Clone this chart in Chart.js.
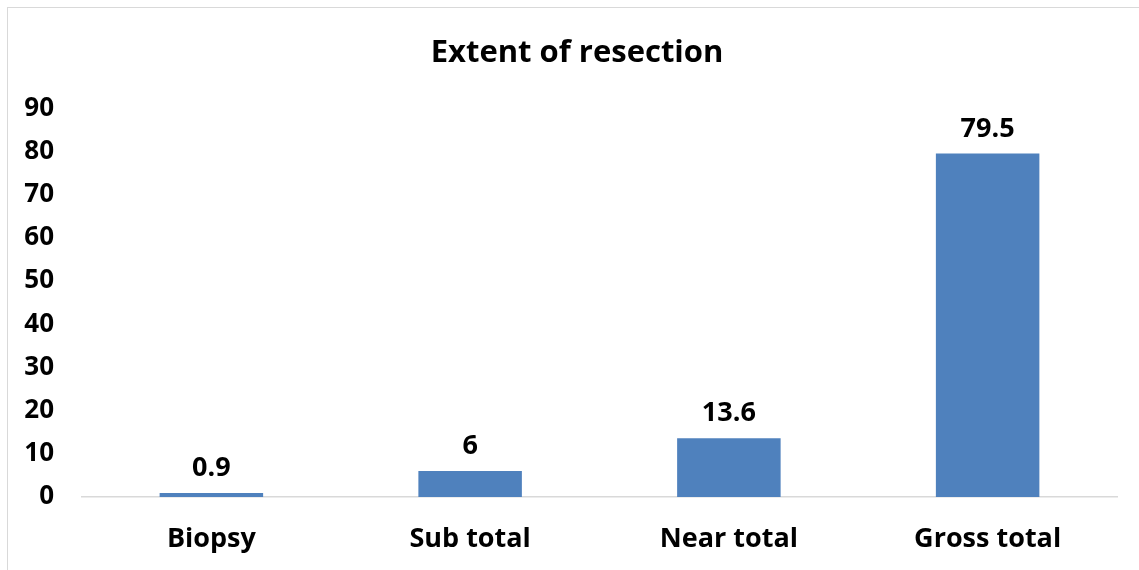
<!DOCTYPE html>
<html>
<head>
<meta charset="utf-8">
<script src="https://cdn.jsdelivr.net/npm/chart.js@4.4.1/dist/chart.umd.min.js"></script>
<style>
  html, body { margin: 0; padding: 0; background: #fff; }
  #wrap { position: relative; width: 1139px; height: 570px; overflow: hidden; }
  #frame { position: absolute; left: 7px; top: 7px; width: 1200px; height: 600px; border: 1.5px solid #d9d9d9; box-sizing: border-box; }
  #chart { position: absolute; left: 0; top: 0; }
</style>
</head>
<body>
<div id="wrap">
  <div id="frame"></div>
  <canvas id="chart" width="1139" height="570"></canvas>
</div>
<script>
const categories = ['Biopsy', 'Sub total', 'Near total', 'Gross total'];
const resectionPct = [0.9, 6, 13.6, 79.5];
const yTicks = [0, 10, 20, 30, 40, 50, 60, 70, 80, 90];

const FONT = '"Open Sans", Lato, sans-serif';

// value labels above each bar
const barValues = {
    id: 'barValues',
    afterDatasetsDraw(chart) {
        const ctx = chart.ctx;
        const meta = chart.getDatasetMeta(0);
        ctx.save();
        ctx.font = 'bold 27px ' + FONT;
        ctx.fillStyle = '#000';
        ctx.textAlign = 'center';
        ctx.textBaseline = 'alphabetic';
        meta.data.forEach(function(bar, i) {
            ctx.fillText(String(chart.data.datasets[0].data[i]), bar.x, bar.y - 17);
        });
        ctx.restore();
    }
};

// nudge the title box so the heading sits a little right of canvas centre
const titleShift = {
    id: 'titleShift',
    afterLayout(chart) {
        if (chart.titleBlock) chart.titleBlock.left += 37;
    }
};

const ctx = document.getElementById('chart').getContext('2d');
new Chart(ctx, {
    type: 'bar',
    data: {
        labels: categories,
        datasets: [{
            label: 'Extent of resection',
            data: resectionPct,
            backgroundColor: '#4F81BD',
            borderWidth: 0,
            categoryPercentage: 1,
            barPercentage: 0.4
        }]
    },
    options: {
        responsive: false,
        animation: false,
        layout: { padding: { top: 8, right: 22, bottom: 0, left: 0 } },
        plugins: {
            legend: { display: false },
            tooltip: { enabled: false },
            title: {
                display: true,
                text: 'Extent of resection',
                color: '#000',
                font: { family: FONT, size: 31, weight: 'bold', lineHeight: 1.2 },
                padding: { top: 27, bottom: 36 }
            }
        },
        scales: {
            x: {
                afterFit: function(scale) { scale.height = 73; },
                grid: { display: false, drawTicks: false },
                border: { display: true, color: '#d9d9d9', width: 1.5 },
                ticks: {
                    color: '#000',
                    padding: 26,
                    font: { family: FONT, size: 27, weight: 'bold' }
                }
            },
            y: {
                min: 0,
                max: 90,
                afterFit: function(scale) { scale.width = 82; },
                afterBuildTicks: function(scale) {
                    scale.ticks = yTicks.map(function(v) { return { value: v }; });
                },
                grid: { display: false, drawTicks: false },
                border: { display: false },
                ticks: {
                    color: '#000',
                    padding: 28,
                    font: { family: FONT, size: 26, weight: 'bold' }
                }
            }
        }
    },
    plugins: [barValues, titleShift]
});
</script>
</body>
</html>
